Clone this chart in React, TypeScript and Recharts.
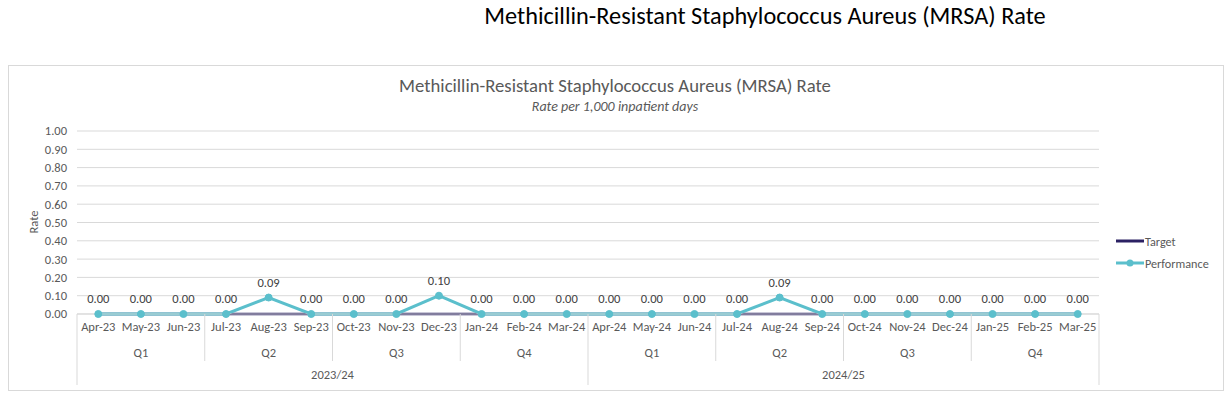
import { CartesianGrid, LabelList, Legend, Line, LineChart, XAxis, YAxis } from 'recharts';

const months = [
  'Apr-23', 'May-23', 'Jun-23', 'Jul-23', 'Aug-23', 'Sep-23',
  'Oct-23', 'Nov-23', 'Dec-23', 'Jan-24', 'Feb-24', 'Mar-24',
  'Apr-24', 'May-24', 'Jun-24', 'Jul-24', 'Aug-24', 'Sep-24',
  'Oct-24', 'Nov-24', 'Dec-24', 'Jan-25', 'Feb-25', 'Mar-25',
];
const quarters = ['Q1', 'Q2', 'Q3', 'Q4'];
const years = ['2023/24', '2024/25'];
const target = [0, 0, 0, 0, 0, 0, 0, 0, 0, 0, 0, 0, 0, 0, 0, 0, 0, 0, 0, 0, 0, 0, 0, 0];
const performance = [
  0, 0, 0, 0, 0.09, 0, 0, 0, 0.1, 0, 0, 0,
  0, 0, 0, 0, 0.09, 0, 0, 0, 0, 0, 0, 0,
];
const yTicks = [0, 0.1, 0.2, 0.3, 0.4, 0.5, 0.6, 0.7, 0.8, 0.9, 1];

const data = months.map((month, i) => ({
  month,
  target: target[i],
  performance: performance[i],
}));

const FONT = "Carlito, Calibri, 'Noto Sans', sans-serif";
const TEXT = '#595959';
const NAVY = '#2b2163';
const TEAL = '#5bbfcc';
const FS = 12.5;

const PLOT_LEFT = 77;
const PLOT_RIGHT = 1099;
const BAND = (PLOT_RIGHT - PLOT_LEFT) / months.length;

function MonthTick(props: any) {
  const { x, y, payload } = props;
  const i: number = props.index ?? payload.index;
  const items: any[] = [];
  items.push(
    <text key="m" x={x} y={y + 17} textAnchor="middle" fontSize={FS} fill={TEXT} fontFamily={FONT}>
      {payload.value}
    </text>,
  );
  if (i % 3 === 1) {
    items.push(
      <text key="q" x={x} y={y + 43} textAnchor="middle" fontSize={FS} fill={TEXT} fontFamily={FONT}>
        {quarters[Math.floor(i / 3) % 4]}
      </text>,
    );
  }
  if (i % 12 === 5) {
    items.push(
      <text key="y" x={x + BAND / 2} y={y + 65} textAnchor="middle" fontSize={FS} fill={TEXT} fontFamily={FONT}>
        {years[Math.floor(i / 12)]}
      </text>,
    );
  }
  if (i % 3 === 0) {
    const len = i % 12 === 0 ? 71 : 47;
    items.push(<line key="s" x1={x - BAND / 2} x2={x - BAND / 2} y1={y} y2={y + len} stroke="#d9d9d9" />);
  }
  if (i === months.length - 1) {
    items.push(<line key="e" x1={x + BAND / 2} x2={x + BAND / 2} y1={y} y2={y + 71} stroke="#d9d9d9" />);
  }
  return <g>{items}</g>;
}

function LegendContent() {
  const row = (label: string, color: string, dot: boolean) => (
    <div style={{ display: 'flex', alignItems: 'center', height: 22 }}>
      <svg width={28} height={10}>
        <line x1={0} x2={28} y1={5} y2={5} stroke={color} strokeWidth={3} />
        {dot && <circle cx={14} cy={5} r={3.5} fill={color} />}
      </svg>
      <span style={{ fontSize: 12.2, color: TEXT, fontFamily: FONT, marginLeft: 1 }}>{label}</span>
    </div>
  );
  return (
    <div>
      {row('Target', NAVY, false)}
      {row('Performance', TEAL, true)}
    </div>
  );
}

export default function App() {
  return (
    <div
      style={{
        position: 'absolute',
        left: 0,
        top: 0,
        width: 1225,
        height: 393,
        overflow: 'hidden',
        background: '#fff',
      }}
    >
      <div
        style={{
          position: 'absolute',
          left: 0,
          width: 1225,
          top: 1,
          paddingLeft: 305,
          boxSizing: 'border-box',
          textAlign: 'center',
          fontFamily: FONT,
          fontSize: 24.3,
          color: '#000',
        }}
      >
        Methicillin-Resistant Staphylococcus Aureus (MRSA) Rate
      </div>
      <div
        style={{
          position: 'absolute',
          left: 8,
          top: 65,
          width: 1214,
          height: 324,
          border: '1px solid #d9d9d9',
        }}
      />
      <div
        style={{
          position: 'absolute',
          left: 0,
          width: 1230,
          top: 74,
          textAlign: 'center',
          fontFamily: FONT,
          fontSize: 18.7,
          color: TEXT,
        }}
      >
        Methicillin-Resistant Staphylococcus Aureus (MRSA) Rate
      </div>
      <div
        style={{
          position: 'absolute',
          left: 0,
          width: 1230,
          top: 98,
          textAlign: 'center',
          fontFamily: FONT,
          fontSize: 14,
          fontStyle: 'italic',
          color: TEXT,
        }}
      >
        Rate per 1,000 inpatient days
      </div>
      <div
        style={{
          position: 'absolute',
          left: 33,
          top: 222,
          transform: 'translate(-50%, -50%) rotate(-90deg)',
          fontFamily: FONT,
          fontSize: FS,
          color: TEXT,
        }}
      >
        Rate
      </div>
      <div style={{ position: 'absolute', left: 0, top: 0 }}>
        <LineChart
          width={1225}
          height={393}
          data={data}
          margin={{ top: 131, right: 1225 - PLOT_RIGHT, bottom: 0, left: PLOT_LEFT - 40 }}
        >
          <CartesianGrid vertical={false} stroke="#d9d9d9" />
          <XAxis
            dataKey="month"
            interval={0}
            height={79}
            padding={{ left: BAND / 2, right: BAND / 2 }}
            tickSize={0}
            tickMargin={0}
            tickLine={false}
            axisLine={{ stroke: '#d9d9d9' }}
            tick={<MonthTick />}
          />
          <YAxis
            domain={[0, 1]}
            ticks={yTicks}
            interval={0}
            width={40}
            axisLine={false}
            tickLine={false}
            tickSize={0}
            tickMargin={10}
            tickFormatter={(v: number) => v.toFixed(2)}
            tick={{ fill: TEXT, fontSize: FS, fontFamily: FONT }}
          />
          <Legend
            layout="horizontal"
            verticalAlign="middle"
            align="center"
            content={<LegendContent />}
            wrapperStyle={{ position: 'absolute', left: 1116, top: 230, width: 100 }}
          />
          <Line
            dataKey="target"
            name="Target"
            stroke={NAVY}
            strokeWidth={2.5}
            dot={false}
            isAnimationActive={false}
          />
          <Line
            dataKey="performance"
            name="Performance"
            stroke={TEAL}
            strokeWidth={3}
            dot={{ r: 3.5, fill: TEAL, stroke: TEAL, strokeWidth: 1 }}
            isAnimationActive={false}
          >
            <LabelList
              dataKey="performance"
              position="top"
              offset={11}
              formatter={(v: any) => Number(v).toFixed(2)}
              style={{ fill: '#404040', fontSize: FS, fontFamily: FONT }}
            />
          </Line>
        </LineChart>
      </div>
    </div>
  );
}
